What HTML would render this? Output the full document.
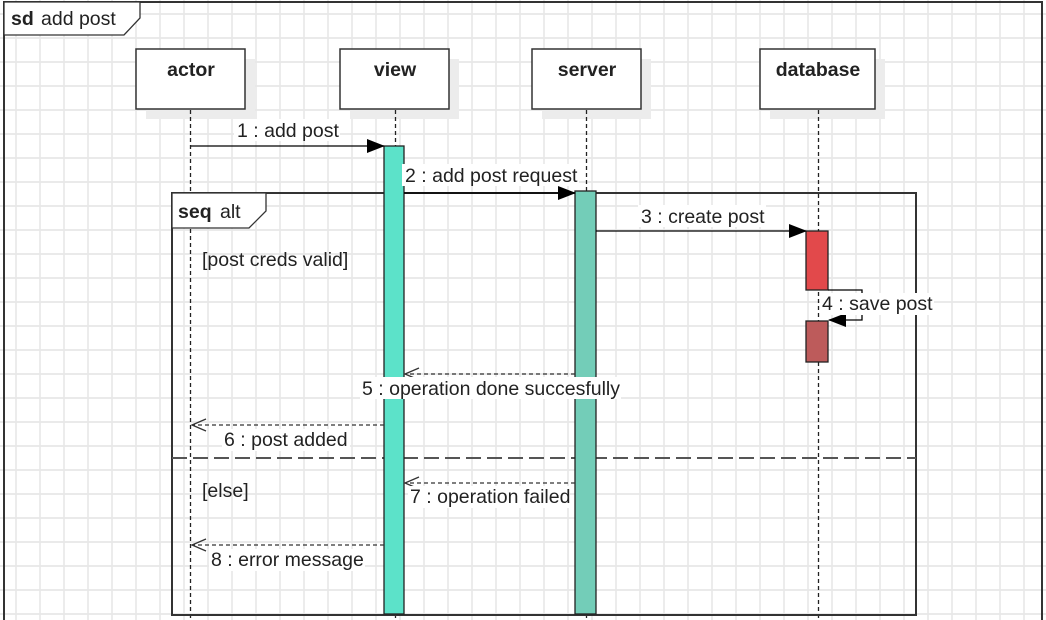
<!DOCTYPE html>
<html><head><meta charset="utf-8"><style>
html,body{margin:0;padding:0;background:#fff}
svg{display:block}
text{font-family:"Liberation Sans",Arial,sans-serif;font-size:19.5px;fill:#222}
</style></head><body>
<svg width="1046" height="620" xmlns="http://www.w3.org/2000/svg">
<defs>
<pattern id="g" x="15" y="13" width="24" height="24" patternUnits="userSpaceOnUse">
<path d="M1 0V24M0 1H24" stroke="#e8e8e8" stroke-width="1.7" fill="none"/>
</pattern>
<marker id="fa" markerWidth="18" markerHeight="14" refX="17" refY="7" orient="auto" markerUnits="userSpaceOnUse"><path d="M0 0L18 7L0 14Z" fill="#000"/></marker>
</defs>
<rect width="1046" height="620" fill="url(#g)"/>
<rect x="4" y="2" width="1038" height="630" fill="none" stroke="#333" stroke-width="2"/>
<path d="M4 2H140V18L124 35H4Z" fill="#fff" stroke="#333" stroke-width="1.3"/>
<text x="11" y="25" font-weight="bold">sd</text><text x="41" y="25">add post</text>
<g fill="#ececec">
<rect x="146" y="59" width="109" height="60"/><rect x="350" y="59" width="109" height="60"/>
<rect x="542" y="59" width="109" height="60"/><rect x="770" y="59" width="115" height="60"/>
</g>
<g fill="#fff" stroke="#333" stroke-width="1.5">
<rect x="136" y="49" width="109" height="60"/><rect x="340" y="49" width="109" height="60"/>
<rect x="532" y="49" width="109" height="60"/><rect x="760" y="49" width="115" height="60"/>
</g>
<g font-weight="bold" text-anchor="middle">
<text x="191" y="76">actor</text><text x="395" y="76">view</text>
<text x="587" y="76">server</text><text x="818" y="76">database</text>
</g>
<g stroke="#222" stroke-width="1.3" stroke-dasharray="4,3">
<path d="M190.5 110V620M395.5 110V620M586.5 110V620M818.5 110V620"/>
</g>
<rect x="172" y="193" width="744" height="422" fill="none" stroke="#333" stroke-width="2"/>
<path d="M172 193H266V211L249 228H172Z" fill="#fff" stroke="#333" stroke-width="1.3"/>
<text x="178" y="218" font-weight="bold">seq</text><text x="220" y="218">alt</text>
<text x="202" y="266" fill="#333">[post creds valid]</text>
<text x="202" y="497" fill="#333">[else]</text>
<path d="M172 458H916" stroke="#555" stroke-width="2" stroke-dasharray="15,6"/>
<rect x="384" y="146" width="20" height="468" fill="#5ce2c9" stroke="#222" stroke-width="1.3"/>
<rect x="575" y="191" width="21" height="423" fill="#73cdb8" stroke="#222" stroke-width="1.3"/>
<rect x="806" y="231" width="22" height="59" fill="#e2494b" stroke="#222" stroke-width="1.3"/>
<rect x="806" y="321" width="22" height="41" fill="#bd5b5b" stroke="#222" stroke-width="1.3"/>
<g stroke="#000" stroke-width="1.3" fill="none">
<path d="M191 146H384" marker-end="url(#fa)"/>
<path d="M404 193H575" marker-end="url(#fa)"/>
<path d="M596 231H806" marker-end="url(#fa)"/>
<path d="M828 290H862V320H829" marker-end="url(#fa)"/>
</g>
<g stroke="#333" stroke-width="1.3" fill="none">
<path d="M575 374H406" stroke-dasharray="4,3"/><path d="M419 368L405 374L419 380"/>
<path d="M384 425H192" stroke-dasharray="4,3"/><path d="M206 419L192 425L206 431"/>
<path d="M575 483H406" stroke-dasharray="4,3"/><path d="M419 477L405 483L419 489"/>
<path d="M384 545H192" stroke-dasharray="4,3"/><path d="M206 539L192 545L206 551"/>
</g>
<g fill="#fff">
<rect x="234" y="119" width="106" height="22"/>
<rect x="402" y="164" width="177" height="22"/>
<rect x="638" y="205" width="128" height="22"/>
<rect x="820" y="293" width="114" height="22"/>
<rect x="360" y="377" width="261" height="22"/>
<rect x="222" y="429" width="128" height="22"/>
<rect x="408" y="486" width="162" height="22"/>
<rect x="209" y="549" width="156" height="22"/>
</g>
<text x="237" y="137">1 : add post</text>
<text x="405" y="182">2 : add post request</text>
<text x="641" y="223">3 : create post</text>
<text x="822" y="310">4 : save post</text>
<text x="362" y="395">5 : operation done succesfully</text>
<text x="224" y="446">6 : post added</text>
<text x="410" y="503">7 : operation failed</text>
<text x="211" y="566">8 : error message</text>
</svg>
</body></html>
